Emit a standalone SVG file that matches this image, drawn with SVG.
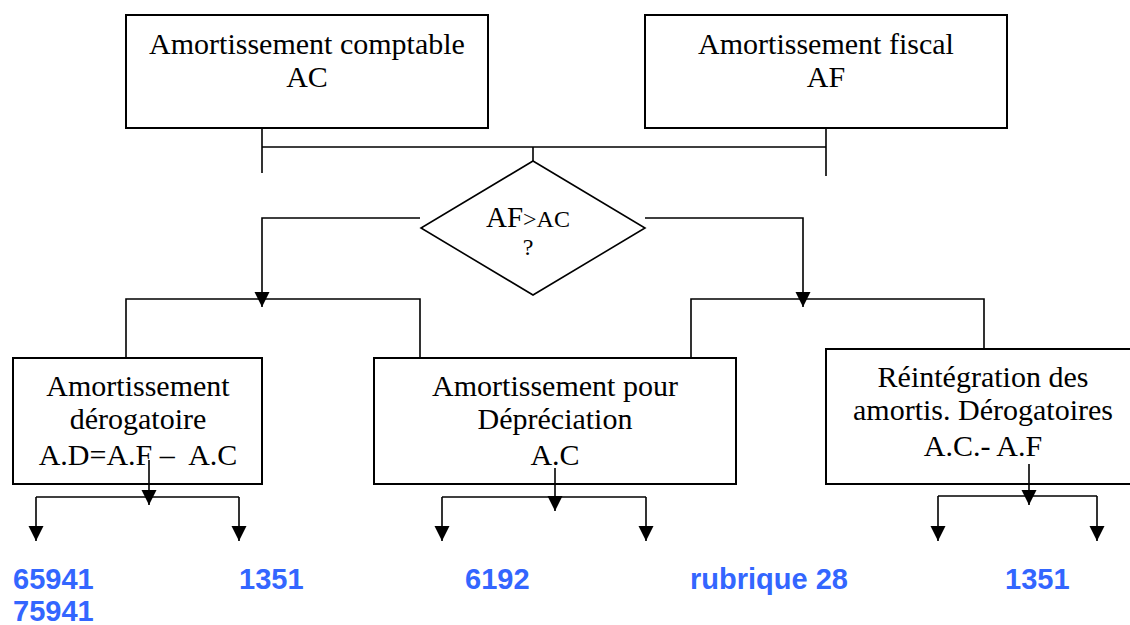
<svg xmlns="http://www.w3.org/2000/svg" width="1130" height="625" viewBox="0 0 1130 625">
<style>
.box{fill:#fff;stroke:#000;stroke-width:2}
.t{font-family:"Liberation Serif","Times New Roman",serif;font-size:30px;fill:#000;text-anchor:middle}
.c{fill:none;stroke:#000;stroke-width:1.6}
.a{marker-end:url(#arr)}
.n{font-family:"Liberation Sans",Arial,sans-serif;font-weight:bold;font-size:29px;fill:#3366FF}
</style>
<defs>
<marker id="arr" markerUnits="userSpaceOnUse" markerWidth="16" markerHeight="16" refX="15" refY="8" orient="auto">
<path d="M0,0.5 L15,8 L0,15.5 z" fill="#000"/>
</marker>
</defs>
<rect width="1130" height="625" fill="#fff"/>
<g id="ac">
<rect class="box" x="126" y="15" width="362" height="113"/>
<text class="t" x="307" y="54">Amortissement comptable</text>
<text class="t" x="307" y="87">AC</text>
</g>
<g id="af">
<rect class="box" x="645" y="15" width="362" height="113"/>
<text class="t" x="826" y="54">Amortissement fiscal</text>
<text class="t" x="826" y="87">AF</text>
</g>
<g id="decision">
<polygon points="533,161 645,228 533,295 421,228" fill="#fff" stroke="#000" stroke-width="1.6"/>
<text x="486" y="227" font-family="Liberation Serif, Times New Roman, serif" font-size="29" fill="#000">AF<tspan font-size="24">&gt;AC</tspan></text>
<text class="t" x="528" y="255" style="font-size:24px">?</text>
</g>
<g id="derog">
<rect class="box" x="13" y="358" width="249" height="126"/>
<text class="t" x="138" y="396">Amortissement</text>
<text class="t" x="138" y="429">dérogatoire</text>
<text class="t" x="138" y="465">A.D=A.F –&#160; A.C</text>
</g>
<g id="deprec">
<rect class="box" x="374" y="358" width="362" height="126"/>
<text class="t" x="555" y="396">Amortissement pour</text>
<text class="t" x="555" y="429">Dépréciation</text>
<text class="t" x="555" y="465">A.C</text>
</g>
<g id="reint">
<rect class="box" x="826" y="349" width="330" height="135"/>
<text class="t" x="983" y="387">Réintégration des</text>
<text class="t" x="983" y="420">amortis. Dérogatoires</text>
<text class="t" x="983" y="456">A.C.- A.F</text>
</g>
<g id="accounts">
<text class="n" x="13" y="589">65941</text>
<text class="n" x="13" y="621">75941</text>
<text class="n" x="239" y="589">1351</text>
<text class="n" x="465" y="589">6192</text>
<text class="n" x="690" y="589">rubrique 28</text>
<text class="n" x="1005" y="589">1351</text>
</g>
<g id="connectors">
<path class="c" d="M262,128 V173 M262,147 H826 M826,128 V176 M533,147 V161"/>
<path class="c a" d="M420,218 H262 V307"/>
<path class="c" d="M126,358 V299 H420 V358"/>
<path class="c a" d="M645,218 H803 V307"/>
<path class="c" d="M691,358 V299 H984 V349"/>
<path class="c" d="M36,497 H239"/>
<path class="c a" d="M149,460 V505"/>
<path class="c a" d="M36,497 V541"/>
<path class="c a" d="M239,497 V541"/>
<path class="c" d="M442,497 H646"/>
<path class="c a" d="M555,468 V511"/>
<path class="c a" d="M442,497 V541"/>
<path class="c a" d="M646,497 V541"/>
<path class="c" d="M938,496 H1097"/>
<path class="c a" d="M1029,464 V505"/>
<path class="c a" d="M938,496 V541"/>
<path class="c a" d="M1097,496 V541"/>
</g>
</svg>
